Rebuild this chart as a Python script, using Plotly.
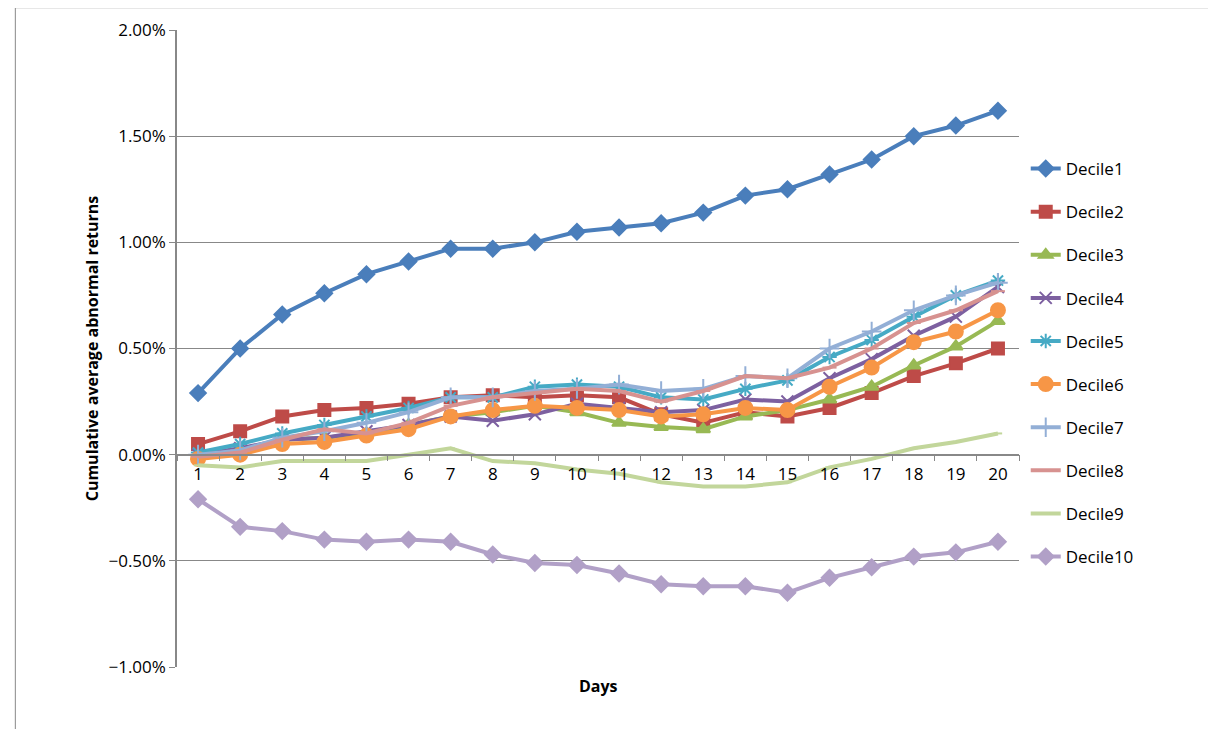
import plotly.graph_objects as go

days = list(range(1, 21))
names = [f"Decile{i}" for i in range(1, 11)]

decile1 = [0.29, 0.50, 0.66, 0.76, 0.85, 0.91, 0.97, 0.97, 1.00, 1.05, 1.07, 1.09, 1.14, 1.22, 1.25, 1.32, 1.39, 1.50, 1.55, 1.62]
decile2 = [0.05, 0.11, 0.18, 0.21, 0.22, 0.24, 0.27, 0.28, 0.27, 0.28, 0.27, 0.19, 0.15, 0.20, 0.18, 0.22, 0.29, 0.37, 0.43, 0.50]
decile3 = [-0.01, 0.02, 0.07, 0.08, 0.10, 0.14, 0.18, 0.20, 0.23, 0.20, 0.15, 0.13, 0.12, 0.18, 0.21, 0.26, 0.32, 0.42, 0.51, 0.63]
decile4 = [0.00, 0.03, 0.07, 0.08, 0.11, 0.14, 0.18, 0.16, 0.19, 0.24, 0.22, 0.20, 0.21, 0.26, 0.25, 0.36, 0.45, 0.56, 0.65, 0.79]
decile5 = [0.01, 0.05, 0.10, 0.14, 0.18, 0.22, 0.27, 0.27, 0.32, 0.33, 0.32, 0.27, 0.26, 0.31, 0.35, 0.46, 0.54, 0.65, 0.75, 0.82]
decile6 = [-0.02, 0.00, 0.05, 0.06, 0.09, 0.12, 0.18, 0.21, 0.23, 0.22, 0.21, 0.18, 0.19, 0.22, 0.21, 0.32, 0.41, 0.53, 0.58, 0.68]
decile7 = [0.00, 0.02, 0.08, 0.11, 0.15, 0.20, 0.27, 0.27, 0.30, 0.31, 0.33, 0.30, 0.31, 0.37, 0.36, 0.50, 0.58, 0.68, 0.75, 0.81]
decile8 = [-0.01, 0.01, 0.07, 0.12, 0.10, 0.15, 0.23, 0.27, 0.29, 0.31, 0.30, 0.25, 0.30, 0.37, 0.36, 0.41, 0.50, 0.62, 0.68, 0.77]
decile9 = [-0.05, -0.06, -0.03, -0.03, -0.03, 0.00, 0.03, -0.03, -0.04, -0.07, -0.09, -0.13, -0.15, -0.15, -0.13, -0.06, -0.02, 0.03, 0.06, 0.10]
decile10 = [-0.21, -0.34, -0.36, -0.40, -0.41, -0.40, -0.41, -0.47, -0.51, -0.52, -0.56, -0.61, -0.62, -0.62, -0.65, -0.58, -0.53, -0.48, -0.46, -0.41]

series = [decile1, decile2, decile3, decile4, decile5, decile6, decile7, decile8, decile9, decile10]
colors = ["#4A7EBB", "#BE4B48", "#98B954", "#7D60A0", "#46AAC5", "#F79646",
          "#93AFD6", "#D79290", "#C2D69B", "#B1A0C7"]
symbols = ["diamond", "square", "triangle-up", "x-thin-open", "asterisk-open", "circle",
           "cross-thin-open", "line-ew-open", "line-ew-open", "diamond"]
sizes = [12, 12, 12, 12, 12, 14, 14, 10, 6, 12]

fig = go.Figure()
for name, vals, c, s, sz in zip(names, series, colors, symbols, sizes):
    fig.add_trace(go.Scatter(
        x=days, y=[v / 100 for v in vals], name=name, legendgroup=name,
        mode="lines+markers",
        line=dict(color=c, width=4),
        marker=dict(symbol=s, size=sz, color=c, line=dict(color=c, width=2)),
    ))

font = "Open Sans, Liberation Sans, sans-serif"
fig.update_layout(
    width=1216, height=729,
    margin=dict(l=169, r=205, t=22, b=70),
    paper_bgcolor="white", plot_bgcolor="white",
    font=dict(family=font, size=17, color="black"),
    legend=dict(x=1.008, y=0.81, yanchor="top", tracegroupgap=18,
                font=dict(size=17)),
    xaxis=dict(range=[0.5, 20.5], tickvals=days, ticks="outside", ticklen=4,
               tickcolor="rgba(0,0,0,0)", showgrid=False, automargin=False,
               showline=True, linecolor="#888", linewidth=1.5,
               anchor="free", position=1 / 3, zeroline=False,
               minor=dict(tickvals=[d + 0.5 for d in range(0, 21)], ticks="outside",
                          ticklen=6, tickcolor="#888"),
               tickfont=dict(size=17)),
    yaxis=dict(range=[-0.01, 0.02], dtick=0.005, tickformat=".2%", automargin=False,
               showgrid=True, gridcolor="#888", gridwidth=1.2,
               showline=True, linecolor="#888", linewidth=1.5,
               ticks="outside", ticklen=6, tickcolor="#888", zeroline=False,
               title=dict(text="<b>Cumulative average abnormal returns</b>", font=dict(size=16),
                          standoff=6),
               tickfont=dict(size=17)),
    annotations=[dict(text="<b>Days</b>", x=0.5, y=-0.01, xref="paper", yref="paper",
                      yanchor="top", showarrow=False, font=dict(size=16))],
    shapes=[dict(type="rect", xref="paper", yref="paper", x0=-0.192, x1=1.24, y0=-0.12, y1=1.035,
                 line=dict(color="#888", width=1))],
)

fig.write_html("out.html")
